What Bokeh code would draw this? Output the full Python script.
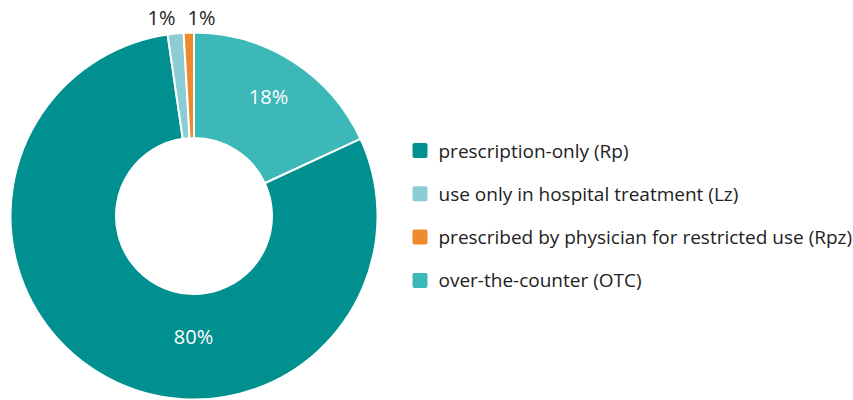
import math
from bokeh.plotting import figure
from bokeh.models import Range1d
from bokeh.core.properties import value
from bokeh.embed import file_html
from bokeh.resources import INLINE

# ---- data ----
categories = ["prescription-only (Rp)", "use only in hospital treatment (Lz)",
              "prescribed by physician for restricted use (Rpz)", "over-the-counter (OTC)"]
shares = [79.6, 1.4, 0.9, 18.1]
share_labels = ["80%", "1%", "1%", "18%"]
colors = ["#009090", "#8bcdd5", "#ee8a2d", "#3cb8b8"]
draw_order = [3, 0, 1, 2]  # clockwise from 12 o'clock

# ---- layout constants (image pixel coordinates) ----
W, H = 853, 400
cx, cy = 193.5, 215.5
r_out, r_in = 183.5, 78
label_pos = {0: (193, 336), 1: (161, 17), 2: (201, 17), 3: (268, 96)}
label_color = {0: "white", 1: "#222222", 2: "#222222", 3: "white"}

p = figure(width=W, height=H, output_backend="svg", toolbar_location=None,
           x_range=Range1d(0, W), y_range=Range1d(-H, 0),
           min_border=0, outline_line_color=None)
p.axis.visible = False
p.grid.visible = False
p.background_fill_color = "white"
p.border_fill_color = "white"

total = sum(shares)
cum = 0.0
for i in draw_order:
    a0 = math.pi / 2 - 2 * math.pi * cum / total
    cum += shares[i]
    a1 = math.pi / 2 - 2 * math.pi * cum / total
    p.annular_wedge(x=cx, y=-cy, inner_radius=r_in, outer_radius=r_out,
                    start_angle=a0, end_angle=a1, direction="clock",
                    fill_color=colors[i], line_color="white", line_width=2)

for i in range(len(categories)):
    lx, ly = label_pos[i]
    p.text(x=[lx], y=[-ly], text=[share_labels[i]], text_align="center",
           text_baseline="middle", text_font=value("Open Sans"),
           text_font_size="20px", text_color=label_color[i])

# legend
leg_x, leg_y0, leg_dy = 419.5, 150, 43.3
for i, name in enumerate(categories):
    yy = leg_y0 + i * leg_dy
    p.rect(x=[leg_x], y=[-yy], width=11, height=11, fill_color=colors[i],
           line_color=colors[i], line_width=4, line_join="round")
    p.text(x=[438], y=[-yy], text=[name], text_align="left", text_baseline="middle",
           text_font=value("Open Sans"), text_font_size="19px", text_color="#222222")

open("out.html", "w").write(file_html(p, INLINE))
